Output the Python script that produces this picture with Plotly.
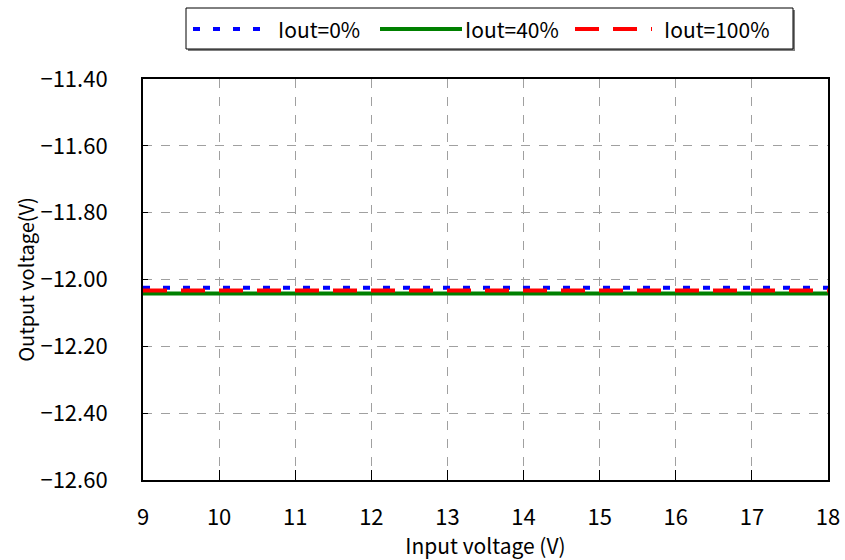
import plotly.graph_objects as go

# Input voltage sweep (V) and measured output voltage (V) per load condition
vin = [9, 10, 11, 12, 13, 14, 15, 16, 17, 18]
vout_0 = [-12.025, -12.025, -12.025, -12.025, -12.025, -12.025, -12.025, -12.025, -12.025, -12.025]
vout_40 = [-12.042, -12.042, -12.042, -12.042, -12.042, -12.042, -12.042, -12.042, -12.042, -12.042]
vout_100 = [-12.033, -12.033, -12.033, -12.033, -12.033, -12.033, -12.033, -12.033, -12.033, -12.033]

series_names = ["Iout=0%", "Iout=40%", "Iout=100%"]
series_colors = ["#0000ff", "#008000", "#ff0000"]
series_dash = ["7px,13px", "solid", "24px,14px"]

x_ticks = list(range(9, 19))
y_ticks = [-12.6, -12.4, -12.2, -12.0, -11.8, -11.6, -11.4]

FONT = "Noto Sans CJK JP"

fig = go.Figure()
for name, ys, col, dash in zip(series_names, [vout_0, vout_40, vout_100], series_colors, series_dash):
    fig.add_trace(go.Scatter(x=vin, y=ys, mode="lines", name=name,
                             line=dict(color=col, width=4, dash=dash),
                             showlegend=False))

# Legend box drawn above the plot area
L, R, T, B = 143, 828, 79, 480
W, H = R - L, B - T


def px(x):
    return (x - L) / W


def py(y):
    return (B - y) / H


shapes = []
annotations = []
# shadow and frame
shapes.append(dict(type="rect", xref="paper", yref="paper",
                   x0=px(188), x1=px(795), y0=py(51), y1=py(10),
                   line=dict(width=0), fillcolor="#808080", layer="above"))
shapes.append(dict(type="rect", xref="paper", yref="paper",
                   x0=px(186), x1=px(793), y0=py(49), y1=py(8),
                   line=dict(color="black", width=1), fillcolor="white", layer="above"))
legend_items = [(193, 273, 276), (380, 462, 463), (575, 652, 662)]
for (x0, x1, xt), name, col, dash in zip(legend_items, series_names, series_colors, series_dash):
    shapes.append(dict(type="line", xref="paper", yref="paper",
                       x0=px(x0), x1=px(x1), y0=py(29), y1=py(29),
                       line=dict(color=col, width=4, dash=dash), layer="above"))
    annotations.append(dict(text=name, xref="paper", yref="paper",
                            x=px(xt), y=py(29), xanchor="left", yanchor="middle",
                            showarrow=False, font=dict(family=FONT, size=21, color="black")))

fig.update_layout(
    width=845, height=560,
    margin=dict(l=L, r=845 - R, t=T, b=560 - B),
    paper_bgcolor="white", plot_bgcolor="white",
    font=dict(family=FONT, color="black"),
    shapes=shapes, annotations=annotations,
)
fig.update_xaxes(
    range=[9, 18], tickvals=x_ticks, ticktext=[str(v) for v in x_ticks],
    showgrid=True, gridcolor="#a0a0a0", griddash="dash", gridwidth=1,
    showline=True, linecolor="black", linewidth=2, mirror=True,
    ticks="inside", ticklen=10, tickcolor="black", tickwidth=1,
    ticklabelstandoff=17,
    tickfont=dict(family=FONT, size=22),
    title=dict(text="Input voltage (V)", font=dict(family=FONT, size=21), standoff=6),
    zeroline=False, automargin=False,
)
fig.update_yaxes(
    range=[-12.6, -11.4], tickvals=y_ticks, tickformat=".2f",
    showgrid=True, gridcolor="#a0a0a0", griddash="dash", gridwidth=1,
    showline=True, linecolor="black", linewidth=2, mirror=True,
    ticks="inside", ticklen=5, tickcolor="black", tickwidth=1,
    ticklabelstandoff=29,
    tickfont=dict(family=FONT, size=22),
    title=dict(text="Output voltage(V)", font=dict(family=FONT, size=20), standoff=0),
    zeroline=False, automargin=False,
)

fig.write_html("out.html")
